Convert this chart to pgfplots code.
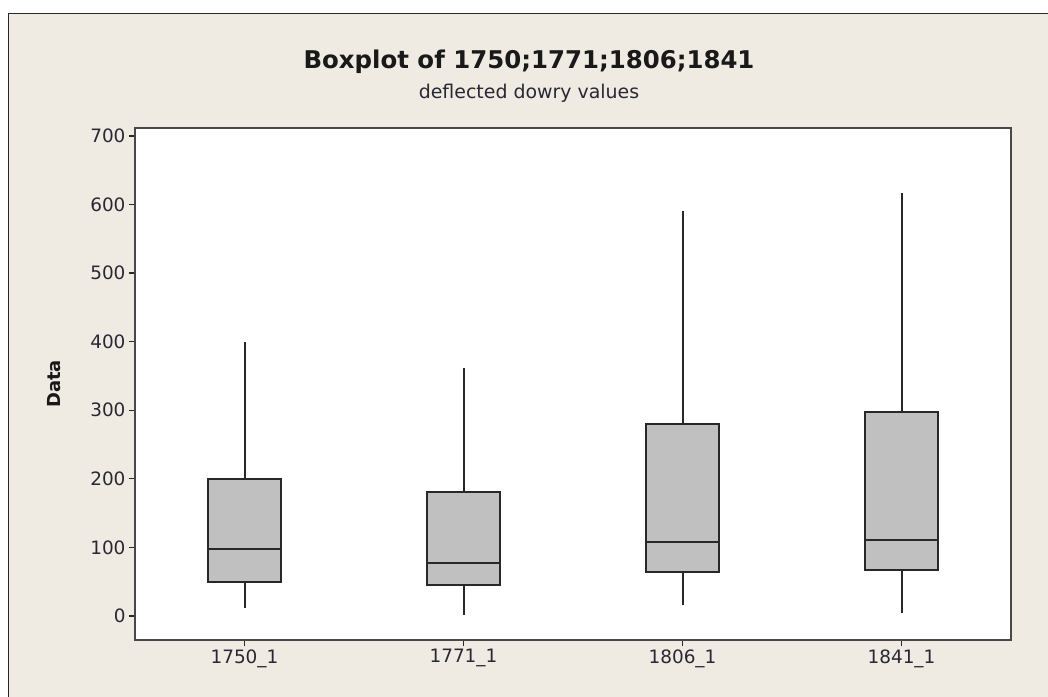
\documentclass[border=0pt]{standalone}
\usepackage{fontspec}
\setmainfont{DejaVu Sans}
\usepackage{pgfplots}
\pgfplotsset{compat=1.18}
\usepgfplotslibrary{statistics}

\definecolor{panel}{RGB}{239,235,226}
\definecolor{boxfill}{RGB}{192,192,192}
\definecolor{ink}{RGB}{40,40,40}
\definecolor{labelink}{RGB}{40,40,52}

\begin{document}
\begin{tikzpicture}
% page and Minitab-like panel
\path[use as bounding box, fill=white] (0,0) rectangle (1048bp,697bp);
\fill[panel] (8bp,0) rectangle (1048bp,684bp);
\draw[ink, line width=1.6bp] (8.5bp,0) -- (8.5bp,683.5bp) -- (1048bp,683.5bp);

\begin{axis}[
  at={(135bp,57bp)}, anchor=south west,
  scale only axis,
  width=876bp, height=512bp,
  xmin=0.5, xmax=4.5,
  ymin=-35, ymax=711.6,
  xtick={1,2,3,4},
  xticklabels={1750\_1,1771\_1,1806\_1,1841\_1},
  ytick={0,100,...,700},
  tick align=outside,
  xtick pos=bottom, ytick pos=left,
  major tick length=6bp,
  tick style={ink, line width=1.3bp},
  axis line style={ink!85, line width=1.8bp},
  axis background/.style={fill=white},
  /pgf/number format/assume math mode=true,
  ticklabel style={font=\fontsize{18.5}{20}\selectfont, text=labelink},
  boxplot/box extend=0.336,
  boxplot/draw direction=y,
  boxplot/every box/.style={draw=ink, line width=1.8bp, fill=boxfill},
  boxplot/every median/.style={draw=ink, line width=1.8bp},
  % whiskers without caps, as in Minitab
  boxplot/draw/lower whisker/.code={%
    \draw[ink, line width=2bp]
      (boxplot cs:\pgfplotsboxplotvalue{lower whisker},0) --
      (boxplot cs:\pgfplotsboxplotvalue{lower quartile},0);},
  boxplot/draw/upper whisker/.code={%
    \draw[ink, line width=2bp]
      (boxplot cs:\pgfplotsboxplotvalue{upper quartile},0) --
      (boxplot cs:\pgfplotsboxplotvalue{upper whisker},0);},
]
\addplot[boxplot prepared={lower whisker=12, lower quartile=50, median=97.7,
  upper quartile=200, upper whisker=399, draw position=1},
  draw=ink, fill=boxfill] coordinates {};
\addplot[boxplot prepared={lower whisker=1.5, lower quartile=45, median=77,
  upper quartile=181, upper whisker=361, draw position=2},
  draw=ink, fill=boxfill] coordinates {};
\addplot[boxplot prepared={lower whisker=16, lower quartile=64, median=107.5,
  upper quartile=280, upper whisker=590, draw position=3},
  draw=ink, fill=boxfill] coordinates {};
\addplot[boxplot prepared={lower whisker=4, lower quartile=67, median=111,
  upper quartile=297, upper whisker=617, draw position=4},
  draw=ink, fill=boxfill] coordinates {};
\end{axis}

\node[font=\bfseries\fontsize{24.5}{26}\selectfont, text=black!90] at (529bp,635bp) {Boxplot of 1750;1771;1806;1841};
\node[font=\fontsize{19}{21}\selectfont, text=labelink] at (529bp,604bp) {deflected dowry values};
\node[font=\bfseries\fontsize{18}{20}\selectfont, text=black!90, rotate=90] at (54bp,313bp) {Data};
\end{tikzpicture}
\end{document}
